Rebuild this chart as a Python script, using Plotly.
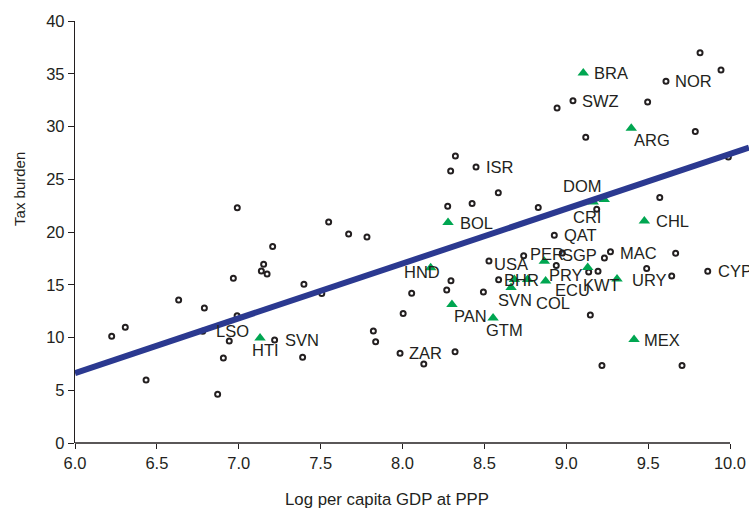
import plotly.graph_objects as go

# ---------------- data ----------------
# Open circles: other countries (x = log per capita GDP at PPP, y = tax burden)
circ_x = [6.224, 6.307, 6.434, 6.633, 6.790, 6.780, 6.967, 6.942, 6.906, 6.871,
          6.990, 6.991, 7.549, 7.671, 7.783, 7.207, 7.152, 7.138, 7.173, 7.398,
          7.507, 7.219, 7.390, 8.056, 8.004, 7.822, 7.836, 7.985, 8.130, 8.321,
          8.296, 8.270, 8.494, 8.528, 8.587, 8.740, 8.976, 8.939, 9.233, 9.270,
          9.137, 9.194, 9.491, 9.644, 9.668, 9.864, 9.147, 9.218, 9.707, 9.186,
          9.571, 8.927, 9.990, 9.817, 9.945, 9.609, 9.041, 8.944, 9.497, 9.119,
          9.788, 8.585, 8.829, 8.323, 8.294, 8.449, 8.276, 8.425]
circ_y = [10.11, 10.97, 5.97, 13.56, 12.80, 10.60, 15.61, 9.67, 8.06, 4.62,
          12.05, 22.31, 20.95, 19.80, 19.52, 18.63, 16.94, 16.30, 16.02, 15.04,
          14.18, 9.77, 8.12, 14.20, 12.28, 10.62, 9.60, 8.50, 7.49, 8.66,
          15.39, 14.50, 14.31, 17.24, 15.47, 17.75, 18.00, 16.82, 17.53, 18.12,
          16.21, 16.27, 16.53, 15.83, 17.99, 16.28, 12.13, 7.34, 7.34, 22.15,
          23.26, 19.69, 27.10, 37.00, 35.36, 34.28, 32.45, 31.75, 32.32, 28.98,
          29.52, 23.73, 22.32, 27.20, 25.78, 26.16, 22.44, 22.69]
circ_lab = ["", "", "", "", "", "LSO", "", "", "", "",
            "", "", "", "", "", "", "", "", "", "",
            "", "SVN", "", "", "", "", "", "ZAR", "", "",
            "", "", "", "USA", "BHR", "", "SGP", "", "", "MAC",
            "", "", "URY", "", "", "CYP", "", "", "", "",
            "", "QAT", "", "", "", "NOR", "SWZ", "", "", "",
            "", "", "", "", "", "ISR", "", ""]

# Green triangles: Latin American countries
tri_x = [9.104, 9.397, 9.165, 9.232, 8.278, 9.477, 8.866, 8.172, 8.874, 9.310,
         9.131, 8.663, 8.683, 8.764, 8.302, 8.553, 9.414, 7.130]
tri_y = [35.07, 29.83, 22.84, 23.07, 20.89, 21.04, 17.22, 16.60, 15.36, 15.55,
         16.63, 14.73, 15.49, 15.49, 13.12, 11.85, 9.80, 9.95]
tri_lab = ["BRA", "ARG", "DOM", "CRI", "BOL", "CHL", "PER", "HND", "PRY", "KWT",
           "ECU", "SVN", "", "COL", "PAN", "GTM", "MEX", "HTI"]

# Fitted regression line (value at x = 6 and slope)
fit_at_6 = 6.63
fit_slope = 5.19

x_ticks = [6.0, 6.5, 7.0, 7.5, 8.0, 8.5, 9.0, 9.5, 10.0]
y_ticks = [0, 5, 10, 15, 20, 25, 30, 35, 40]

# ---------------- styling ----------------
X_MIN, X_MAX = 6.0, 10.116   # plot area runs to the right edge of the page
Y_MIN, Y_MAX = 0, 40
INK = "#231F20"
GREEN = "#00A651"
BLUE = "#2B3990"
FONT = "Liberation Sans, Arial, sans-serif"
LAB_SIZE = 16.5

# label placement: (xanchor, dx px, dy px down) relative to the marker
circ_lab_pos = {
    "LSO": ("left", 11, 0), "SVN": ("left", 8, 0), "ZAR": ("left", 7, 0),
    "USA": ("left", 3, 2.6), "BHR": ("left", 3, 0.4), "SGP": ("left", -2, 2.3),
    "MAC": ("left", 8, 1.6), "URY": ("center", 3.3, 11), "CYP": ("left", 8, 0),
    "QAT": ("left", 8, 0), "NOR": ("left", 7, 0), "SWZ": ("left", 7, 0),
    "ISR": ("left", 8, 0),
}
tri_lab_pos = {
    "BRA": ("left", 9, 0), "ARG": ("left", 1, 12), "DOM": ("center", -10.8, -15.7),
    "CRI": ("center", -16.8, 17.4), "BOL": ("left", 10, 0), "CHL": ("left", 10, 0),
    "PER": ("center", 2.5, -7.7), "HND": ("center", -8.4, 4.2),
    "PRY": ("left", 1.5, -5.7), "KWT": ("center", -15.3, 6.3),
    "ECU": ("center", -15.2, 22.7), "SVN": ("center", 3.8, 12),
    "COL": ("center", 25.8, 23), "PAN": ("left", 0.3, 11.7),
    "GTM": ("left", -9, 12.3), "MEX": ("left", 8, 0), "HTI": ("center", 5.5, 12.2),
}

fig = go.Figure()

fig.add_trace(go.Scatter(
    x=circ_x, y=circ_y, mode="markers",
    marker=dict(symbol="circle", size=5, color="white",
                line=dict(color=INK, width=2)),
    hoverinfo="skip", showlegend=False, cliponaxis=False))

fig.add_trace(go.Scatter(
    x=tri_x, y=tri_y, mode="markers",
    marker=dict(symbol="triangle-up", size=10, color=GREEN, line=dict(width=0)),
    hoverinfo="skip", showlegend=False, cliponaxis=False))

fit_x = [X_MIN, X_MAX]
fit_y = [fit_at_6 + fit_slope * (v - 6.0) for v in fit_x]
fig.add_trace(go.Scatter(
    x=fit_x, y=fit_y, mode="lines",
    line=dict(color=BLUE, width=6),
    hoverinfo="skip", showlegend=False))

annotations = []
def add_labels(xs, ys, labs, pos):
    for x, y, lab in zip(xs, ys, labs):
        if not lab:
            continue
        anchor, dx, dy = pos[lab]
        annotations.append(dict(
            x=x, y=y, xref="x", yref="y", text=lab, showarrow=False,
            xanchor=anchor, yanchor="middle", xshift=dx, yshift=-dy,
            font=dict(family=FONT, size=LAB_SIZE, color=INK)))

add_labels(circ_x, circ_y, circ_lab, circ_lab_pos)
add_labels(tri_x, tri_y, tri_lab, tri_lab_pos)

# axis titles
annotations.append(dict(
    text="Tax burden", xref="paper", yref="paper", x=-0.0816, y=0.602,
    textangle=-90, showarrow=False, xanchor="center", yanchor="middle",
    font=dict(family=FONT, size=15, color=INK)))
annotations.append(dict(
    text="Log per capita GDP at PPP", xref="paper", yref="paper", x=0.463, y=-0.135,
    showarrow=False, xanchor="center", yanchor="middle",
    font=dict(family=FONT, size=16.8, color=INK)))

# x-axis line only from 6.0 to 10.0
x_end = (x_ticks[-1] - X_MIN) / (X_MAX - X_MIN)
shapes = [dict(type="line", xref="paper", yref="paper", x0=0, x1=x_end, y0=0, y1=0,
               line=dict(color=INK, width=1.3), layer="above")]

fig.update_layout(
    width=749, height=509, autosize=False,
    margin=dict(l=75, r=0, t=21, b=66, pad=0),
    paper_bgcolor="white", plot_bgcolor="white",
    font=dict(family=FONT, color=INK, size=16.5),
    annotations=annotations, shapes=shapes,
    xaxis=dict(range=[X_MIN, X_MAX], tickvals=x_ticks,
               ticktext=[f"{v:.1f}" for v in x_ticks],
               showgrid=False, zeroline=False, showline=False,
               ticks="outside", ticklen=5, tickwidth=1.3, tickcolor=INK,
               tickfont=dict(family=FONT, size=16.5, color=INK)),
    yaxis=dict(range=[Y_MIN, Y_MAX], tickvals=y_ticks,
               showgrid=False, zeroline=False, showline=True,
               linecolor=INK, linewidth=1.3,
               ticks="outside", ticklen=6, tickwidth=1.3, tickcolor=INK,
               tickfont=dict(family=FONT, size=16.5, color=INK)),
)

fig.write_html("out.html")
